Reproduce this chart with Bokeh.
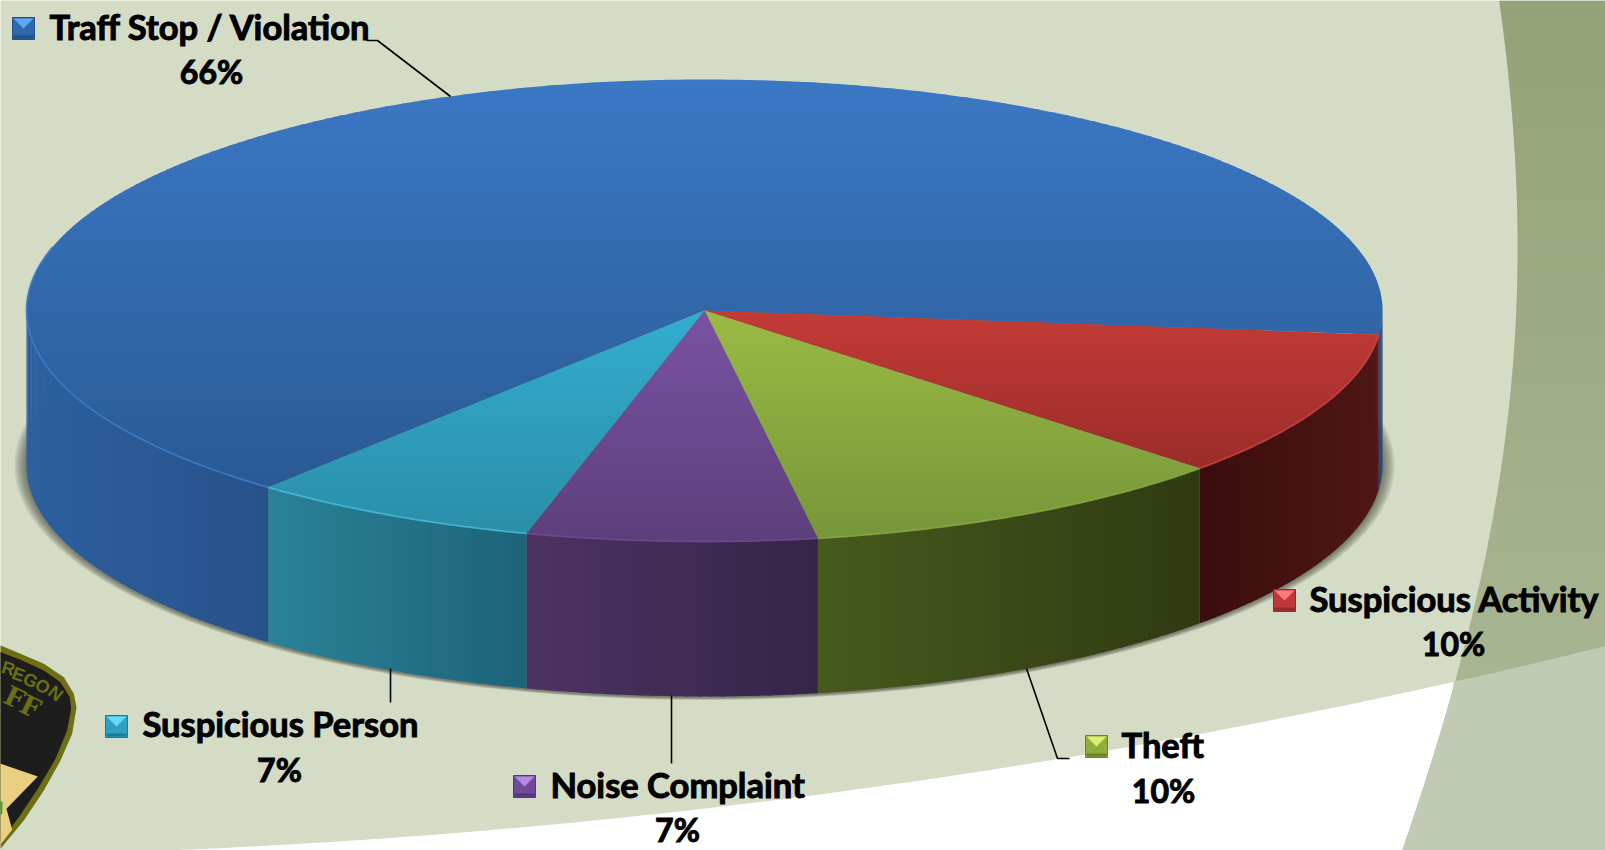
import numpy as np
from bokeh.plotting import figure
from bokeh.core.properties import value
from bokeh.embed import file_html
from bokeh.resources import INLINE

# ---------------- data ----------------
categories = ["Suspicious Activity", "Theft", "Noise Complaint", "Suspicious Person", "Traff Stop / Violation"]
shares = [10.3, 10.36, 6.9, 6.9, 65.54]      # drawn share
percent_labels = ["10%", "10%", "7%", "7%", "66%"]

# ---------------- style ----------------
top_light = ["#c33b36", "#9aba44", "#7a52a3", "#33adcf", "#3b78c4"]
top_dark = ["#9a2c2a", "#76963a", "#5d3f7c", "#2a8ea8", "#2a5a95"]
wall_left = ["#3a0d0c", "#465a1c", "#4d3263", "#2a8299", "#2c609f"]
wall_right = ["#501716", "#2f3a12", "#342547", "#1c6378", "#28528a"]
rim = ["#c9443f", "#8aa93f", "#6d4a92", "#45bcdc", "#3a7cc8"]
key_mid = ["#c0393a", "#8fae3c", "#6f4b9a", "#2f9fc2", "#2f68ad"]
key_top = ["#ff7a7e", "#d8f070", "#b48ae8", "#62dcf8", "#5fa8f0"]
key_low = ["#8f2a2a", "#6a8228", "#523680", "#1f7a98", "#214f88"]

CX, CY, RX, RY, DEPTH = 704, 310, 678, 231, 155
START_DEG = 6
W, H = 1605, 850
PAGE = "#d4dcc6"

key_pos = [(1273, 589), (1085, 735), (513, 775), (105, 715), (12, 17)]
name_pos = [(1309, 598), (1121, 744), (550, 784), (142, 723), (49, 26)]
pct_pos = [(1453, 643), (1163, 790), (677, 829), (279, 769), (211, 71)]
leaders = [
    ([1026, 1057, 1069], [668, 758, 758]),
    ([671, 671], [695, 763]),
    ([390, 390], [668, 702]),
    ([366, 377, 450], [40, 40, 96]),
]


def hex2rgb(h):
    return np.array([int(h[i:i + 2], 16) for i in (1, 3, 5)], dtype=float)


def lerp(a, b, t):
    c = hex2rgb(a) * (1 - t) + hex2rgb(b) * t
    return "#%02x%02x%02x" % tuple(int(round(v)) for v in c)


def clip_band(xs, ys, y0, y1):
    pts = list(zip(xs, ys))
    for limit, keep_above in ((y0, True), (y1, False)):
        out = []
        n = len(pts)
        for i in range(n):
            a, b = pts[i], pts[(i + 1) % n]
            ina = a[1] >= limit if keep_above else a[1] <= limit
            inb = b[1] >= limit if keep_above else b[1] <= limit
            if ina:
                out.append(a)
            if ina != inb:
                t = (limit - a[1]) / (b[1] - a[1])
                out.append((a[0] + (b[0] - a[0]) * t, limit))
        pts = out
        if not pts:
            return None
    return [q[0] for q in pts], [q[1] for q in pts]


def ell(deg, dy=0.0):
    r = np.radians(deg)
    return CX + RX * np.cos(r), CY + dy + RY * np.sin(r)


p = figure(width=W, height=H, x_range=(0, W), y_range=(H, 0), toolbar_location=None,
           output_backend="svg", min_border=0, margin=(0, 0, 0, 0),
           background_fill_color=PAGE, border_fill_color=PAGE, outline_line_color=None)
p.xaxis.visible = False
p.yaxis.visible = False
p.grid.visible = False

# ---------------- slide background ----------------
curve_x = [170, 480, 819, 1062, 1240, 1452, 1605]
curve_y = [850, 830, 794, 760, 722, 684, 645]
cfit = np.polyfit(curve_x, curve_y, 3)
wx = np.linspace(120, W, 80)
wy = np.minimum(np.polyval(cfit, wx), H)
p.patch(list(wx) + [W, 120], list(wy) + [H, H], fill_color="#ffffff", line_color=None)

arc_y = [0, 100, 222, 400, 600, 684, 850]
arc_x = [1499, 1509, 1519, 1507, 1478, 1452, 1402]
afit = np.polyfit(arc_y, arc_x, 4)
ay = np.linspace(0, H, 90)
ax = np.polyval(afit, ay)
px_, py_ = list(ax) + [W, W], list(ay) + [H, 0]
bx, by, bc = [], [], []
for y in range(0, H, 6):
    r = clip_band(px_, py_, y, y + 7)
    if r:
        bx.append(r[0]); by.append(r[1]); bc.append(lerp("#93a277", "#a8b592", y / 680))
p.patches(bx, by, fill_color=bc, line_color=None)
ly = ay[np.polyval(cfit, ax) <= ay]
lx = np.polyval(afit, ly)
sx = np.linspace(lx[0], W, 30)
p.patch(list(lx[::-1]) + list(sx) + [W], list(ly[::-1]) + list(np.polyval(cfit, sx)) + [H],
        fill_color="#c1cbb3", line_color=None)

# ---------------- badge ----------------
Z = lambda q: ([a / 3 for a, b in q], [630 + b / 3 for a, b in q])
outer = [(-5, 43), (60, 70), (130, 100), (190, 140), (220, 190), (228, 230), (215, 310), (180, 390),
         (130, 480), (70, 570), (0, 655), (-5, 660)]
inner = [(-5, 63), (60, 88), (130, 120), (180, 155), (208, 200), (212, 235), (200, 300), (165, 385),
         (115, 470), (55, 560), (0, 632), (-5, 640)]
star = [(-5, 398), (112, 438), (18, 535), (35, 598), (0, 642), (-5, 645)]
leaf = [(-5, 505), (6, 515), (5, 548), (-5, 560)]
for q, c in ((outer, "#6e6e12"), (inner, "#1d1d1d"), (star, "#e8d080"), (leaf, "#3a9a3a")):
    x_, y_ = Z(q)
    p.patch(x_, y_, fill_color=c, line_color=None)
badge_letters = ["R", "E", "G", "O", "N"]
blx = [8, 18, 30, 42, 55]
bly = [668, 674, 680, 686, 693]
bla = [-0.28, -0.36, -0.45, -0.55, -0.68]
p.text(blx, bly, text=badge_letters, angle=bla, text_font=value("Liberation Sans"), text_font_style="bold",
       text_font_size="18px", text_color="#6e6e12", text_align="center", text_baseline="middle")
p.text([14, 30], [697, 706], text=["F", "F"], angle=[-0.45, -0.45], text_font=value("DejaVu Serif"),
       text_font_style="bold", text_font_size="27px", text_color="#6e6e12", text_align="center",
       text_baseline="middle")

# ---------------- shadow ----------------
th = np.linspace(0, 2 * np.pi, 240)
for i in range(7):
    sx_ = CX + (RX + 12 - 1.8 * i) * np.cos(th)
    sy_ = CY + DEPTH + (RY + 3.5 - 0.4 * i) * np.sin(th)
    p.patch(sx_, sy_, fill_color="#3a3a30", fill_alpha=0.11, line_color=None)

# ---------------- pie geometry from shares ----------------
ang = [START_DEG]
for s in shares:
    ang.append(ang[-1] + s * 3.6)
ang[-1] = START_DEG + 360

# side walls (only the visible, front half)
wxs, wys, wcs = [], [], []
for i in range(len(shares)):
    a0, a1 = ang[i], ang[i + 1]
    parts = [(a0, min(a1, 180))] if a0 < 180 else []
    if a1 > 360:
        parts = parts + [(0, a1 - 360)]
    for lo, hi in parts:
        if hi <= lo:
            continue
        n = max(2, int(np.ceil((hi - lo) / 1.0)))
        edges = np.linspace(lo, hi, n + 1)
        xa = ell(lo)[0]
        xb = ell(hi)[0]
        span = min(xa, xb), max(xa, xb)
        for e0, e1 in zip(edges[:-1], edges[1:]):
            e2 = min(e1 + 0.25, hi)
            x0, y0 = ell(e0)
            x1, y1 = ell(e2)
            xm = (x0 + x1) / 2
            t = (xm - span[0]) / max(span[1] - span[0], 1)
            color = lerp(wall_left[i], wall_right[i], t)
            if a1 > 360 and lo == 0:
                color = "#1f4478"
            wxs.append([x0, x1, x1, x0])
            wys.append([y0, y1, y1 + DEPTH, y0 + DEPTH])
            wcs.append(color)
p.patches(wxs, wys, fill_color=wcs, line_color=None)

# top surface with a vertical gradient per wedge: blue first so edges of others lie on top
for i in [4, 0, 1, 2, 3]:
    deg = np.linspace(ang[i], ang[i + 1], max(int(ang[i + 1] - ang[i]) * 2, 6))
    ex, ey = ell(deg)
    xs_ = [CX] + list(ex)
    ys_ = [CY] + list(ey)
    ymin, ymax = min(ys_), max(ys_)
    gx, gy, gc = [], [], []
    y = ymin
    while y < ymax:
        r = clip_band(xs_, ys_, y, y + 3.5)
        if r and len(r[0]) >= 3:
            gx.append(r[0]); gy.append(r[1])
            gc.append(lerp(top_light[i], top_dark[i], (y - ymin) / (ymax - ymin)))
        y += 3
    p.patches(gx, gy, fill_color=gc, line_color=None)

# rim highlight
for i in range(len(shares)):
    hi = min(ang[i + 1], 196)
    if ang[i] < hi:
        deg = np.linspace(ang[i], hi, 60)
        ex, ey = ell(deg)
        p.line(ex, ey, line_color=rim[i], line_width=1.8, line_alpha=0.85)

# ---------------- leader lines ----------------
for lx_, ly_ in leaders:
    p.line(lx_, ly_, line_color="#000000", line_width=1.6)

# ---------------- legend keys ----------------
KS = 22
for i, (kx, ky) in enumerate(key_pos):
    p.patch([kx, kx + KS, kx + KS, kx], [ky, ky, ky + KS, ky + KS], fill_color=key_mid[i], line_color=key_low[i],
            line_width=1)
    p.patch([kx + 1, kx + KS - 1, kx + KS / 2], [ky + 1, ky + 1, ky + KS * 0.5], fill_color=key_top[i],
            line_color=None)
    p.patch([kx + 1, kx + KS - 1, kx + KS - 1, kx + 1], [ky + KS - 4, ky + KS - 4, ky + KS - 1, ky + KS - 1],
            fill_color=key_low[i], line_color=None)

# ---------------- labels ----------------
FONT = value("Lato")
p.text([q[0] for q in name_pos], [q[1] for q in name_pos], text=categories, text_font=FONT,
       text_font_style="bold", text_font_size="34.5px", text_color="#000000", text_outline_color="#000000",
       text_align="left", text_baseline="middle")
p.text([q[0] for q in pct_pos], [q[1] for q in pct_pos], text=percent_labels, text_font=FONT,
       text_font_style="bold", text_font_size="32px", text_color="#000000", text_outline_color="#000000",
       text_align="center", text_baseline="middle")

open("out.html", "w").write(file_html(p, INLINE))
